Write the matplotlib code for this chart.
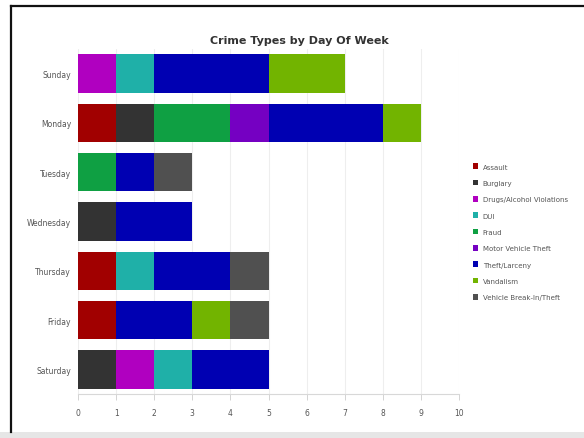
"""Crime types by day of week, stacked horizontal bars."""

import matplotlib.pyplot as plt
from matplotlib.patches import Rectangle
import numpy as np

days = ["Sunday", "Monday", "Tuesday", "Wednesday", "Thursday", "Friday", "Saturday"]
crime_types = ["Assault", "Burglary", "Drugs/Alcohol Violations", "DUI", "Fraud",
               "Motor Vehicle Theft", "Theft/Larceny", "Vandalism", "Vehicle Break-In/Theft"]

# counts per crime type, one entry per day (Sunday .. Saturday)
assault = [0, 1, 0, 0, 1, 1, 0]
burglary = [0, 1, 0, 1, 0, 0, 1]
drugs_alcohol = [1, 0, 0, 0, 0, 0, 1]
dui = [1, 0, 0, 0, 1, 0, 1]
fraud = [0, 2, 1, 0, 0, 0, 0]
motor_vehicle_theft = [0, 1, 0, 0, 0, 0, 0]
theft_larceny = [3, 3, 1, 2, 2, 2, 2]
vandalism = [2, 1, 0, 0, 0, 1, 0]
vehicle_break_in = [0, 0, 1, 0, 1, 1, 0]

series = [assault, burglary, drugs_alcohol, dui, fraud,
          motor_vehicle_theft, theft_larceny, vandalism, vehicle_break_in]
colors = ["#a10000", "#333333", "#b000c0", "#1fb0a8", "#0fa043",
          "#7500c2", "#0000b2", "#72b400", "#505050"]

fig = plt.figure(figsize=(5.84, 4.39), dpi=100)

# outer frame like the screenshot (left + top dark line, grey strip at the bottom)
fig.patches.append(Rectangle((0.0, 0.0), 1.0, 6 / 439, transform=fig.transFigure,
                             facecolor="#e6e6e6", edgecolor="none", zorder=0))
fig.add_artist(plt.Line2D([11 / 584, 11 / 584], [6 / 439, 1 - 7 / 439],
                          transform=fig.transFigure, color="#111111", lw=1.6))
fig.add_artist(plt.Line2D([11 / 584, 1.0], [1 - 7 / 439, 1 - 7 / 439],
                          transform=fig.transFigure, color="#111111", lw=1.6))

ax = fig.add_axes([78 / 584, 1 - 395 / 439, 381 / 584, 345 / 439])

y = np.arange(len(days))
left = np.zeros(len(days))
for name, vals, col in zip(crime_types, series, colors):
    vals = np.array(vals, dtype=float)
    ax.barh(y, vals, left=left, height=0.78, color=col, label=name,
            edgecolor="none", zorder=3)
    left += vals

ax.set_xlim(0, 10)
ax.set_ylim(6.5, -0.5)
ax.set_xticks(range(0, 11))
ax.set_yticks(y)
ax.set_yticklabels(days)
ax.tick_params(axis="both", labelsize=5.5, colors="#666666", labelcolor="#555555")
ax.tick_params(axis="y", length=0, pad=5)
ax.tick_params(axis="x", length=4, width=0.6, pad=6, color="#cccccc")
ax.grid(axis="x", color="#eeeeee", lw=0.8, zorder=0)
for side in ["top", "right", "left"]:
    ax.spines[side].set_visible(False)
ax.spines["bottom"].set_color("#d8d8d8")

fig.text(299 / 584, 1 - 41 / 439, "Crime Types by Day Of Week", ha="center", va="center",
         fontsize=8, fontweight="bold", color="#333333")

handles, labels = ax.get_legend_handles_labels()
leg = fig.legend(handles, labels, loc="upper left", bbox_to_anchor=(467 / 584, 1 - 158 / 439),
                 frameon=False, fontsize=5, handlelength=0.75, handleheight=0.9,
                 handletextpad=0.6, labelspacing=1.45, labelcolor="#555555")

fig.savefig("out.png", dpi=100)
